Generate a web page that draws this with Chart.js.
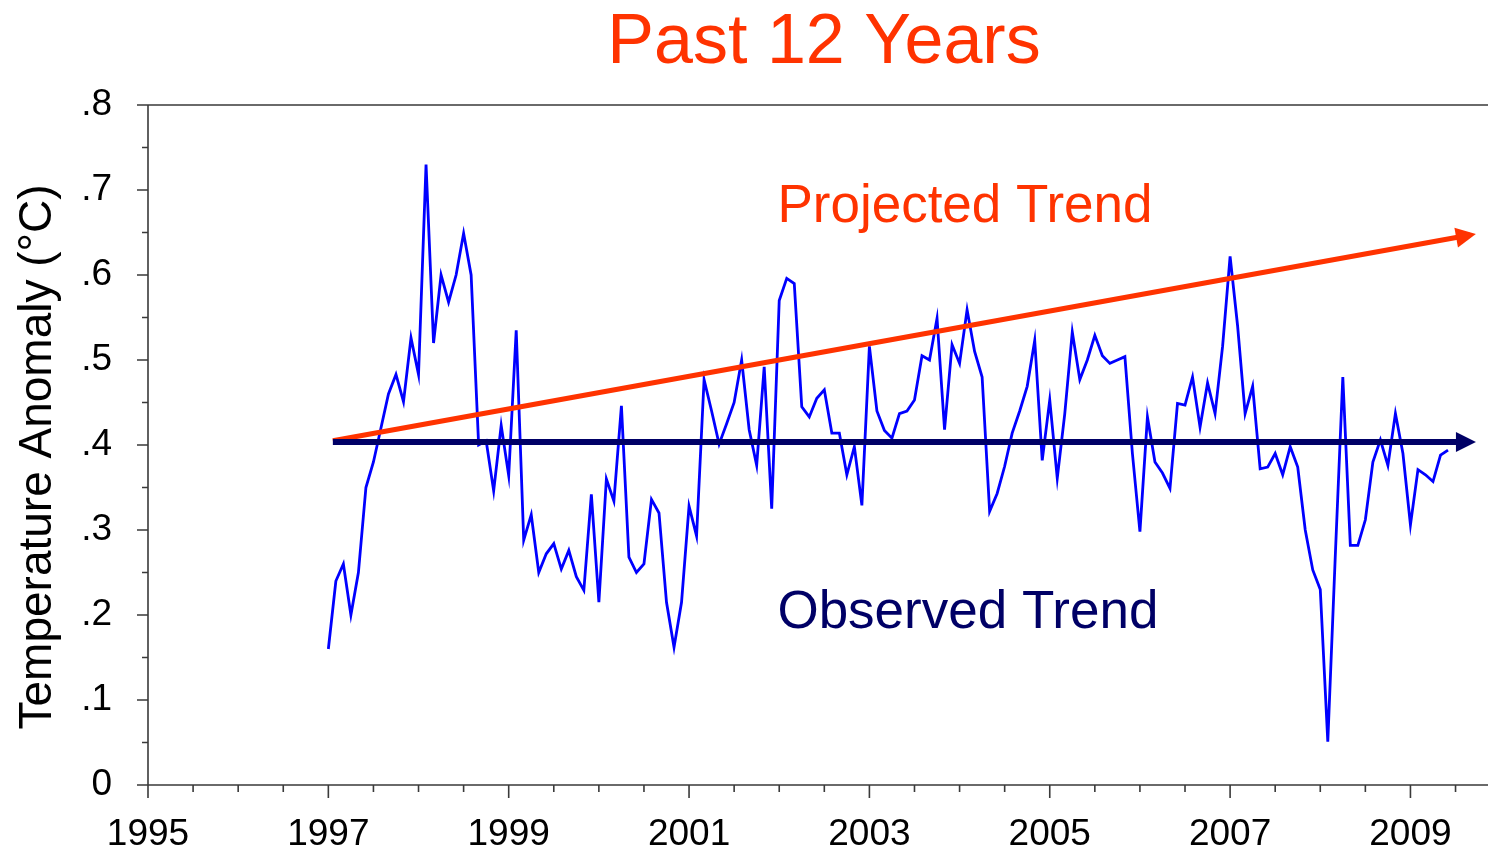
<!DOCTYPE html>
<html>
<head>
<meta charset="utf-8">
<title>Past 12 Years</title>
<script src="https://cdn.jsdelivr.net/npm/chart.js@4/dist/chart.umd.min.js"></script>
<style>
  html, body { margin: 0; padding: 0; background: #fff; }
  #wrap { width: 1488px; height: 856px; position: relative; }
</style>
</head>
<body>
<div id="wrap"><canvas id="myChart"></canvas></div>
<script>
// monthly temperature anomaly, starting January 1997
const startYear = 1997;
const anomaly = [
  0.16, 0.24, 0.26, 0.20, 0.25, 0.35, 0.38, 0.42, 0.46, 0.483, 0.451, 0.526,
  0.483, 0.73, 0.52, 0.60, 0.568, 0.60, 0.649, 0.60, 0.40, 0.405, 0.346, 0.423,
  0.364, 0.535, 0.288, 0.318, 0.25, 0.272, 0.284, 0.254, 0.276, 0.245, 0.229, 0.342,
  0.215, 0.36, 0.334, 0.446, 0.268, 0.25, 0.26, 0.336, 0.32, 0.215, 0.162, 0.215,
  0.328, 0.293, 0.477, 0.44, 0.401, 0.425, 0.45, 0.50, 0.418, 0.376, 0.492, 0.325,
  0.57, 0.596, 0.59, 0.445, 0.433, 0.455, 0.465, 0.414, 0.414, 0.365, 0.398, 0.329,
  0.516, 0.44, 0.417, 0.408, 0.437, 0.44, 0.453, 0.505, 0.50, 0.549, 0.418, 0.518,
  0.496, 0.559, 0.51, 0.48, 0.322, 0.343, 0.375, 0.414, 0.44, 0.469, 0.523, 0.382,
  0.453, 0.361, 0.437, 0.533, 0.477, 0.50, 0.529, 0.505, 0.496, 0.50, 0.504, 0.39,
  0.298, 0.433, 0.38, 0.367, 0.349, 0.449, 0.447, 0.48, 0.421, 0.473, 0.437, 0.516,
  0.622, 0.54, 0.437, 0.469, 0.372, 0.374, 0.39, 0.365, 0.398, 0.374, 0.30, 0.253,
  0.23, 0.051, 0.27, 0.48, 0.282, 0.282, 0.312, 0.38, 0.406, 0.376, 0.437, 0.39,
  0.306, 0.371, 0.365, 0.357, 0.388, 0.394
];
const months = anomaly.map((_, i) => startYear + i / 12);

// trend arrows (start / end)
const trendYears = [1997.05, 2009.66];
const projectedTrend = [0.405, 0.647];
const observedTrend = [0.4035, 0.4035];

// axes
const yearTicks = [1995, 1997, 1999, 2001, 2003, 2005, 2007, 2009];
const tempTicks = [0, 0.1, 0.2, 0.3, 0.4, 0.5, 0.6, 0.7, 0.8];
const tempLabels = ["0", ".1", ".2", ".3", ".4", ".5", ".6", ".7", ".8"];

const FONT = '"Liberation Sans", Arial, Helvetica, sans-serif';
const RED = "#ff3300";
const NAVY = "#000066";

const toPoints = (xs, ys) => xs.map((x, i) => ({ x: x, y: ys[i] }));

// ticks, frame, arrows and texts
const decoPlugin = {
  id: "deco",
  afterDatasetsDraw(chart) {
    const { ctx } = chart;
    chart.data.datasets.forEach((ds, i) => {
      if (!ds.arrow) return;
      const pts = chart.getDatasetMeta(i).data;
      const a = pts[pts.length - 2];
      const b = pts[pts.length - 1];
      const ang = Math.atan2(b.y - a.y, b.x - a.x);
      const tipX = b.x + 6 * Math.cos(ang);
      const tipY = b.y + 6 * Math.sin(ang);
      ctx.save();
      ctx.translate(tipX, tipY);
      ctx.rotate(ang);
      ctx.fillStyle = ds.borderColor;
      ctx.beginPath();
      ctx.moveTo(0, 0);
      ctx.lineTo(-20, -10);
      ctx.lineTo(-20, 10);
      ctx.closePath();
      ctx.fill();
      ctx.restore();
    });
  },
  afterDraw(chart) {
    const { ctx, chartArea: area, scales: { x, y } } = chart;
    ctx.save();
    ctx.strokeStyle = "#3a3a3a";
    ctx.lineWidth = 1.6;
    ctx.beginPath();
    ctx.moveTo(area.left, area.top);
    ctx.lineTo(chart.width, area.top);
    ctx.moveTo(area.left, area.top);
    ctx.lineTo(area.left, area.bottom + 13);
    ctx.moveTo(area.left - 11, area.bottom);
    ctx.lineTo(chart.width, area.bottom);
    for (let i = 0; i <= 16; i++) {
      const py = y.getPixelForValue(i * 0.05);
      const len = i % 2 === 0 ? 11 : 6;
      ctx.moveTo(area.left - len, py);
      ctx.lineTo(area.left, py);
    }
    for (let i = 1; i <= 29; i++) {
      const px = x.getPixelForValue(1995 + i * 0.5);
      const len = i % 4 === 0 ? 13 : 7;
      ctx.moveTo(px, area.bottom);
      ctx.lineTo(px, area.bottom + len);
    }
    ctx.stroke();

    // title
    ctx.fillStyle = RED;
    ctx.font = "70px " + FONT;
    ctx.textAlign = "center";
    ctx.textBaseline = "alphabetic";
    ctx.fillText("Past 12 Years", (area.left + area.right) / 2 + 6, 63);

    // trend labels
    ctx.textAlign = "left";
    ctx.font = "53px " + FONT;
    ctx.fillText("Projected Trend", x.getPixelForValue(2001.98), y.getPixelForValue(0.662));
    ctx.fillStyle = NAVY;
    ctx.fillText("Observed Trend", x.getPixelForValue(2001.98), y.getPixelForValue(0.185));

    // y axis title
    ctx.fillStyle = "#000";
    ctx.font = "46px " + FONT;
    ctx.textAlign = "center";
    ctx.textBaseline = "middle";
    ctx.translate(38, 457);
    ctx.rotate(-Math.PI / 2);
    ctx.fillText("Temperature Anomaly (\u00B0C)", 0, 0);
    ctx.restore();
  }
};

const ctx = document.getElementById("myChart");
new Chart(ctx, {
  type: "line",
  data: {
    datasets: [
      {
        label: "Observed Trend",
        data: toPoints(trendYears, observedTrend),
        borderColor: NAVY,
        borderWidth: 6,
        pointRadius: 0,
        arrow: true,
      },
      {
        label: "Projected Trend",
        data: toPoints(trendYears, projectedTrend),
        borderColor: RED,
        borderWidth: 5,
        pointRadius: 0,
        arrow: true,
      },
      {
        label: "Anomaly",
        data: toPoints(months, anomaly),
        borderColor: "#0000ff",
        borderWidth: 2.8,
        pointRadius: 0,
        tension: 0,
      },
    ],
  },
  options: {
    responsive: true,
    maintainAspectRatio: false,
    animation: false,
    layout: { padding: { top: 105, left: 0, right: 0, bottom: 0 } },
    plugins: {
      legend: { display: false },
      title: { display: false },
      tooltip: { enabled: false },
    },
    scales: {
      x: {
        type: "linear",
        min: 1995,
        max: 2009.86,
        grid: { display: false, drawTicks: false },
        border: { display: false },
        afterBuildTicks: (axis) => {
          axis.ticks = yearTicks.map((v) => ({ value: v }));
        },
        afterFit: (axis) => {
          axis.height = 71;
        },
        ticks: {
          padding: 28,
          color: "#000",
          font: { family: FONT, size: 37 },
          maxRotation: 0,
          autoSkip: false,
          callback: (v) => String(v),
        },
      },
      y: {
        min: 0,
        max: 0.8,
        grid: { display: false, drawTicks: false },
        border: { display: false },
        afterBuildTicks: (axis) => {
          axis.ticks = tempTicks.map((v) => ({ value: v }));
        },
        afterFit: (axis) => {
          axis.width = 148;
        },
        ticks: {
          padding: 36,
          color: "#000",
          font: { family: FONT, size: 37 },
          autoSkip: false,
          callback: (v, i) => tempLabels[i],
        },
      },
    },
  },
  plugins: [decoPlugin],
});
</script>
</body>
</html>
